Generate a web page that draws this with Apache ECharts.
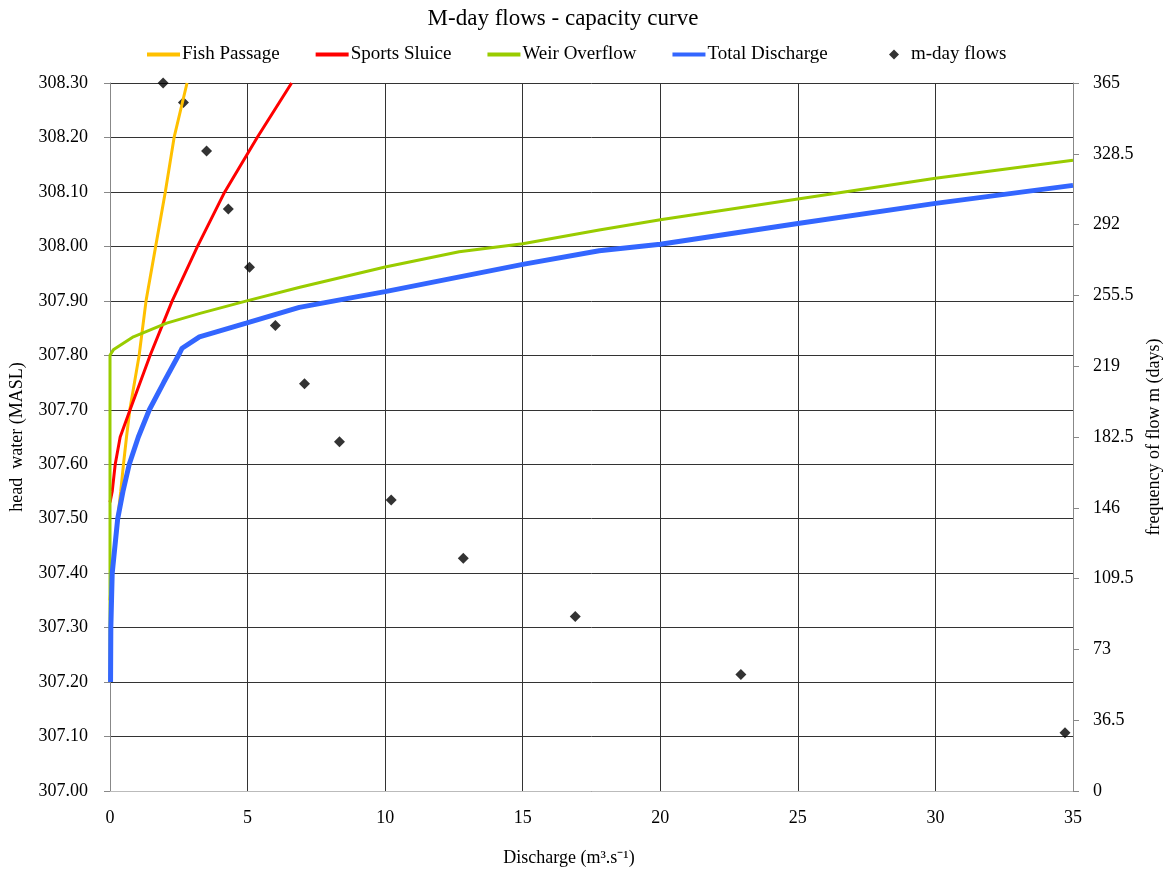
<!DOCTYPE html>
<html>
<head>
<meta charset="utf-8">
<script src="https://cdn.jsdelivr.net/npm/echarts@6/dist/echarts.min.js"></script>
<style>html,body{margin:0;padding:0;background:#fff}#c{width:1166px;height:870px}</style>
</head>
<body>
<div id="c"></div>
<script>
// [discharge m3/s, head water MASL]
const fishPassage = [[0,307.35],[0.08,307.40],[0.18,307.45],[0.28,307.50],[0.39,307.55],[0.49,307.60],[0.60,307.65],[0.72,307.70],[1.06,307.80],[1.31,307.90],[1.66,308.00],[2.01,308.10],[2.33,308.20],[2.80,308.30]];
const sportsSluice = [[0,307.53],[0.08,307.55],[0.19,307.60],[0.37,307.65],[0.73,307.70],[1.46,307.80],[2.26,307.90],[3.18,308.00],[4.17,308.10],[5.35,308.20],[6.60,308.30]];
const weirOverflow = [[0,307.20],[0,307.80],[0.12,307.81],[0.85,307.834],[2.06,307.859],[3.27,307.877],[4.97,307.90],[6.90,307.925],[10,307.962],[12.69,307.99],[15,308.005],[17.78,308.03],[20,308.049],[25,308.087],[30,308.125],[35,308.158]];
const totalDischarge = [[0.02,307.20],[0.03,307.30],[0.08,307.40],[0.28,307.50],[0.47,307.55],[0.70,307.60],[1.03,307.65],[1.43,307.70],[1.95,307.75],[2.49,307.80],[2.62,307.813],[3.25,307.834],[4.95,307.859],[6.88,307.888],[8.70,307.905],[10,307.917],[15,307.967],[17.78,307.992],[20,308.004],[25,308.042],[30,308.079],[35,308.112]];
const mdayDischarge = [1.93,2.67,3.51,4.30,5.07,6.01,7.07,8.34,10.22,12.84,16.91,22.93,34.71];
const mdayDays = [365,355,330,300,270,240,210,180,150,120,90,60,30];

const SERIF = 'Liberation Serif, Times New Roman, serif';
const chart = echarts.init(document.getElementById('c'), null, {renderer:'canvas'});
const lineNames = ['Fish Passage','Sports Sluice','Weir Overflow','Total Discharge'];
const lineColors = ['#FFC000','#FF0000','#99CC00','#3366FF'];
const lineWidths = [3,3,3,5];
const lineData = [fishPassage, sportsSluice, weirOverflow, totalDischarge];

const series = lineNames.map((n,i)=>({
  name:n, type:'line', xAxisIndex:0, yAxisIndex:0, data:lineData[i],
  showSymbol:false, symbol:'none', smooth:false,
  lineStyle:{color:lineColors[i], width:lineWidths[i]}, itemStyle:{color:lineColors[i]},
  clip:true, animation:false
}));
series.push({
  name:'m-day flows', type:'scatter', xAxisIndex:0, yAxisIndex:1,
  data: mdayDischarge.map((x,i)=>[x, mdayDays[i]]),
  symbol:'diamond', symbolSize:11, itemStyle:{color:'#000'}, clip:false, animation:false
});

chart.setOption({
  backgroundColor:'#fff',
  animation:false,
  title:{text:'M-day flows - capacity curve', left:558, textAlign:'center', top:2,
    textStyle:{fontFamily:SERIF, fontWeight:'normal', fontSize:23, color:'#000'}},
  legend:[{
    data:lineNames, left:142, top:40, icon:'rect', itemWidth:33, itemHeight:4, itemGap:36,
    textStyle:{fontFamily:SERIF, fontSize:19, color:'#000', padding:[0,0,0,-3]}
  },{
    data:['m-day flows'], left:884, top:40, icon:'diamond', itemWidth:10, itemHeight:10, itemGap:10,
    textStyle:{fontFamily:SERIF, fontSize:19, color:'#000', padding:[0,0,0,7]}
  }],
  grid:{left:110, right:93, top:83, bottom:79, containLabel:false, outerBoundsMode:'none'},
  xAxis:{type:'value', min:0, max:35, interval:5,
    name:'Discharge (m³.s⁻¹)', nameLocation:'middle', nameGap:58,
    nameTextStyle:{fontFamily:SERIF, fontSize:18, color:'#000', padding:[0,45,0,0]},
    axisLine:{lineStyle:{color:'#bbb', width:1}}, axisTick:{show:false},
    axisLabel:{fontFamily:SERIF, fontSize:18, color:'#000', margin:18},
    splitLine:{show:true, lineStyle:{color:'#333', width:1}}},
  yAxis:[{type:'value', min:307, max:308.3, interval:0.1, position:'left',
    name:'head  water (MASL)', nameLocation:'middle', nameGap:84,
    nameTextStyle:{fontFamily:SERIF, fontSize:18, color:'#000'},
    axisLine:{show:true, lineStyle:{color:'#888'}},
    axisTick:{show:true, inside:false, length:6, lineStyle:{color:'#888'}},
    axisLabel:{fontFamily:SERIF, fontSize:18, color:'#000', margin:22, formatter:v=>v.toFixed(2)},
    splitLine:{show:true, lineStyle:{color:'#333', width:1}}},
  {type:'value', min:0, max:365, interval:36.5, position:'right',
    name:'frequency of flow m (days)', nameLocation:'middle', nameGap:72,
    nameTextStyle:{fontFamily:SERIF, fontSize:18, color:'#000'},
    axisLine:{show:true, lineStyle:{color:'#888'}},
    axisTick:{show:true, inside:false, length:6, lineStyle:{color:'#888'}},
    axisLabel:{fontFamily:SERIF, fontSize:18, color:'#000', margin:20, formatter:v=>String(+v.toFixed(1))},
    splitLine:{show:false}}],
  series:series
});
</script>
</body>
</html>
